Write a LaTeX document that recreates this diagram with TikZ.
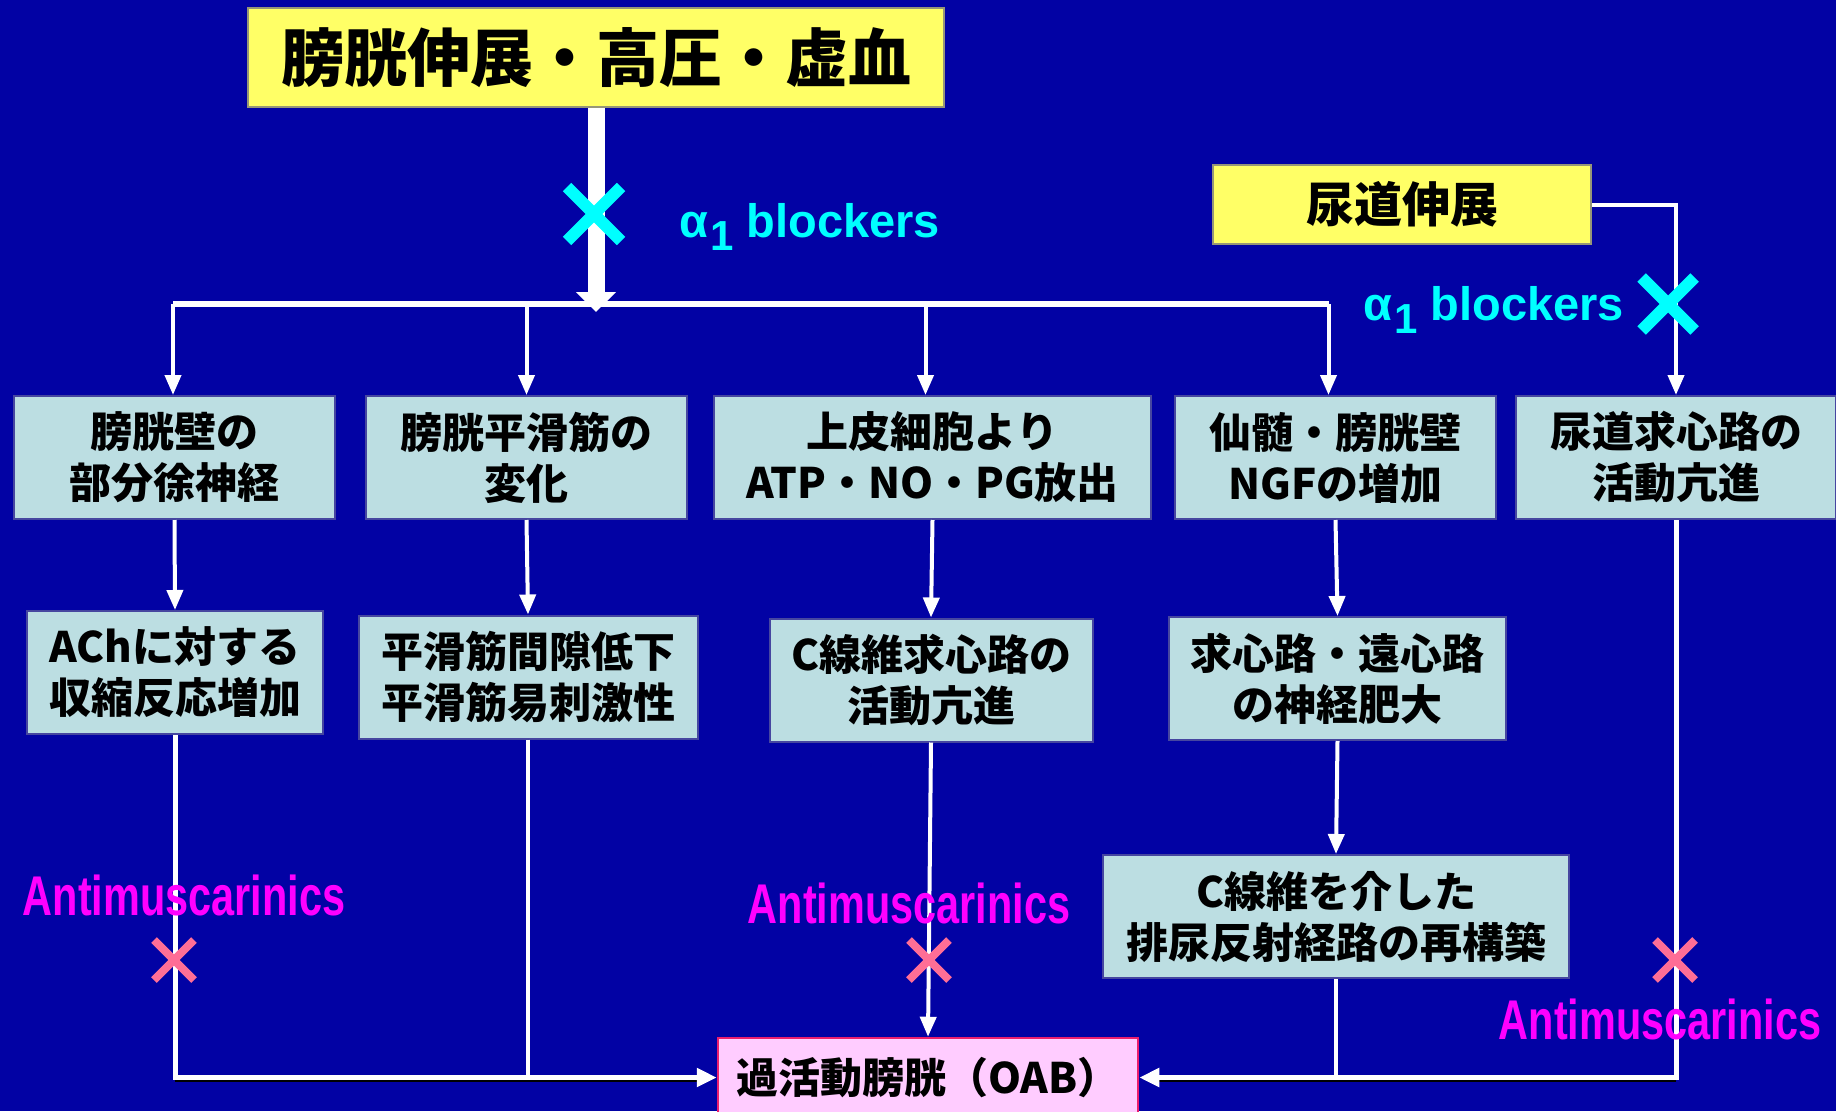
\documentclass[tikz,border=0pt]{standalone}
\usepackage{graphicx}
\usepackage{fontspec}
\setmainfont{Noto Sans CJK JP}
\newfontfamily\latfont{Liberation Sans}
\usetikzlibrary{arrows.meta,shapes.misc}
\definecolor{bg}{RGB}{2,2,164}
\definecolor{boxfill}{RGB}{188,222,226}
\definecolor{boxline}{RGB}{70,70,160}
\definecolor{yfill}{RGB}{255,255,102}
\definecolor{yline}{RGB}{150,150,120}
\definecolor{oabfill}{RGB}{255,204,255}
\definecolor{oabline}{RGB}{235,30,110}
\definecolor{cyanx}{RGB}{0,255,255}
\definecolor{magx}{RGB}{255,0,255}
\definecolor{pinkx}{RGB}{255,110,150}
\definecolor{shade}{RGB}{110,110,210}
\begin{document}
\begin{tikzpicture}[x=1pt,y=-1pt,
  bx/.style={draw=boxline, line width=2pt, fill=boxfill, inner sep=0pt, align=center,
    font=\bfseries\fontsize{42}{51}\selectfont, minimum height=123pt},
  ybx/.style={draw=yline, line width=2pt, fill=yfill, inner sep=0pt, align=center},
  ln/.style={draw=white, line width=4pt},
  arr/.style={draw=white, line width=4pt, -{Triangle[width=16pt,length=20pt]}},
  barr/.style={draw=white, line width=5pt, -{Triangle[width=18pt,length=20pt]}},
  xmk/.style={cross out, inner sep=0pt, outer sep=0pt, line cap=butt},
  alab/.style={inner sep=0pt, anchor=base west, text=cyanx, font=\latfont\bfseries\fontsize{47}{47}\selectfont},
  mlab/.style={inner sep=0pt, anchor=base, text=magx, font=\latfont\bfseries\fontsize{56}{56}\selectfont}
]
\useasboundingbox (0,0) rectangle (1836,1111);
\fill[bg] (0,0) rectangle (1836,1111);

% boxes
\node[ybx, minimum width=696pt, minimum height=99pt, font=\bfseries\fontsize{63}{63}\selectfont] (top) at (596,57.5) {膀胱伸展・高圧・虚血};
\node[ybx, minimum width=378pt, minimum height=79pt, font=\bfseries\fontsize{48}{48}\selectfont] (ur) at (1402,204.5) {尿道伸展};

\node[bx, minimum width=321pt] (B1) at (174.5,457.5) {膀胱壁の\\部分徐神経};
\node[bx, minimum width=321pt] (B2) at (526.5,457.5) {膀胱平滑筋の\\変化};
\node[bx, minimum width=437pt] (B3) at (932.5,457.5) {上皮細胞より\\ATP・NO・PG放出};
\node[bx, minimum width=321pt] (B4) at (1335.5,457.5) {仙髄・膀胱壁\\NGFの増加};
\node[bx, minimum width=320pt] (B5) at (1676,457.5) {尿道求心路の\\活動亢進};

\node[bx, minimum width=296pt] (C1) at (175,672.5) {AChに対する\\収縮反応増加};
\node[bx, minimum width=339pt] (C2) at (528,677) {平滑筋間隙低下\\平滑筋易刺激性};
\node[bx, minimum width=323pt] (C3) at (931,680) {C線維求心路の\\活動亢進};
\node[bx, minimum width=337pt] (C4) at (1337.5,678.5) {求心路・遠心路\\の神経肥大};
\node[bx, minimum width=466pt] (C5) at (1336,916.5) {C線維を介した\\排尿反射経路の再構築};

\node[draw=oabline, line width=2.5pt, fill=oabfill, inner sep=0pt, minimum width=420pt, minimum height=79pt,
  font=\bfseries\fontsize{42}{42}\selectfont] (OAB) at (928,1077.5) {過活動膀胱（OAB）};

% bus and trunk
\coordinate (bus) at (0,304);
\coordinate (J) at (597.5,312);
\draw[white, line width=6pt, line cap=square] ([xshift=-1.5pt]B1.north |- bus) -- ([xshift=-7pt]B4.north |- bus);
\draw[arr] ([xshift=-1.5pt]B1.north |- bus) -- ([xshift=-1.5pt]B1.north);
\draw[arr] (B2.north |- bus) -- (B2.north);
\draw[arr] ([xshift=-7pt]B3.north |- bus) -- ([xshift=-7pt]B3.north);
\draw[arr] ([xshift=-7pt]B4.north |- bus) -- ([xshift=-7pt]B4.north);
\draw[white, line width=17pt, -{Triangle[width=39pt,length=20pt]}] (top.south) -- (top.south |- J);

\draw[arr] (ur.east) -| (B5.north);

% row connections
\draw[arr] (B1.south) -- (C1.north);
\draw[arr] (B2.south) -- (C2.north);
\draw[arr] (B3.south) -- (C3.north);
\draw[arr] (B4.south) -- (C4.north);
\draw[arr] (C4.south) -- (C5.north);
\draw[arr] (C3.south) -- (OAB.north);

% bottom collectors (with faint shadow)
\draw[shade, line width=3pt] ([yshift=-3pt]C1.south |- OAB.west) -- ([yshift=-3pt,xshift=-20pt]OAB.west);
\draw[shade, line width=3pt] ([yshift=-3pt]B5.south |- OAB.east) -- ([yshift=-3pt,xshift=20pt]OAB.east);
\draw[ln] (C2.south) -- (C2.south |- OAB.west);
\draw[ln] (C5.south) -- (C5.south |- OAB.east);
\draw[barr] (C1.south) |- (OAB.west);
\draw[barr] (B5.south) |- (OAB.east);

% blocker marks
\node[xmk, draw=cyanx, line width=12pt, minimum size=54pt] (x1) at (594,214) {};
\node[xmk, draw=cyanx, line width=12pt, minimum size=53pt] (x2) at (1668,304) {};
\node[xmk, draw=pinkx, line width=8pt, minimum size=40pt] (x3) at (174,960) {};
\node[xmk, draw=pinkx, line width=8pt, minimum size=40pt] (x4) at (929,960) {};
\node[xmk, draw=pinkx, line width=8pt, minimum size=40pt] (x5) at (1675,960) {};

% labels
\node[alab] (a1) at (679,237) {α\hspace{2pt}\raisebox{-13pt}{\fontsize{42}{42}\selectfont 1} blockers};
\node[alab] (a2) at (1363,320) {α\hspace{2pt}\raisebox{-13pt}{\fontsize{42}{42}\selectfont 1} blockers};
\node[mlab] (m1) at (184,915) {\scalebox{0.74}[1]{Antimuscarinics}};
\node[mlab] (m2) at (909,923) {\scalebox{0.74}[1]{Antimuscarinics}};
\node[mlab] (m3) at (1660,1039) {\scalebox{0.74}[1]{Antimuscarinics}};
\end{tikzpicture}
\end{document}
